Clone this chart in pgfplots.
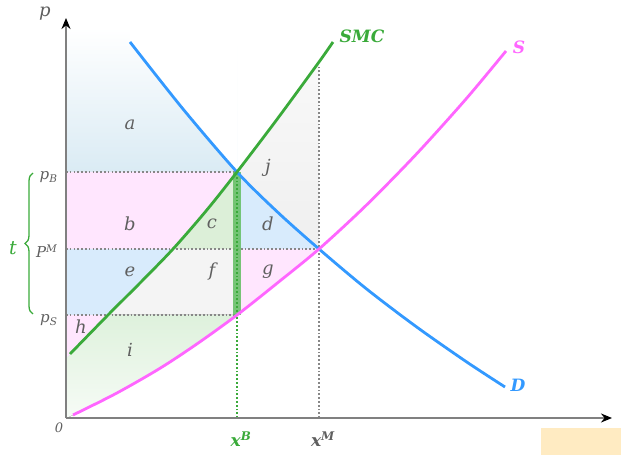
\documentclass[border=0pt]{standalone}
\usepackage{fontspec}
\setmainfont{DejaVu Serif}
\usepackage{pgfplots}
\usepackage{pgfplotstable}
\pgfplotsset{compat=1.18}
\usepgfplotslibrary{fillbetween}
\usetikzlibrary{arrows.meta,decorations.pathreplacing}

\definecolor{Dblue}{RGB}{51,153,255}
\definecolor{Sgreen}{RGB}{58,170,58}
\definecolor{Spink}{RGB}{255,102,255}
\definecolor{aBlue}{RGB}{218,235,244}
\definecolor{pinkF}{RGB}{255,230,254}
\definecolor{blueF}{RGB}{216,235,252}
\definecolor{greenF}{RGB}{220,239,216}
\definecolor{greenI}{RGB}{222,241,220}
\definecolor{greyF}{RGB}{244,244,244}
\definecolor{greyJ}{RGB}{239,239,239}
\definecolor{txtgray}{RGB}{95,95,95}
\definecolor{dotgray}{RGB}{135,135,135}
\definecolor{barGreen}{RGB}{105,192,105}
\definecolor{orangeF}{RGB}{255,235,194}

% demand curve D
\pgfplotstableread{
x y
64 376
117 309
171 246
212 205.5
253 169
300 129.5
350 91.5
400 56.5
439 31
}\Dtab

% marginal social cost SMC (drawn) and its fill outline
\pgfplotstableread{
x y
4 64
42 103
75 136
107 169
140 207
171 246
212 300
253 356
267 376
}\SMCtab
\pgfplotstableread{
x y
0 60
4 64
42 103
75 136
107 169
140 207
171 246
212 300
253 356
267 376
}\SMCfill

% supply curve S (drawn) and its fill outline
\pgfplotstableread{
x y
7 3
50 24.5
94 49.7
132 74.8
171 103
212 135.5
253 169
300 212.5
350 263.5
400 319
440 367
}\Stab
\pgfplotstableread{
x y
0 0
7 3
50 24.5
94 49.7
132 74.8
171 103
212 135.5
253 169
300 212.5
350 263.5
400 319
440 367
}\Sfill

\begin{document}
\begin{tikzpicture}
\begin{axis}[
  at={(0,0)}, anchor=south west,
  scale only axis, width=546pt, height=400pt,
  xmin=0, xmax=546, ymin=0, ymax=400,
  axis lines=left, xtick=\empty, ytick=\empty,
  clip=false, axis on top,
  axis line style={draw=gray, line width=2pt, -{Stealth[length=11pt,width=9pt,color=black]}},
]
% invisible named paths
\addplot[draw=none, smooth, name path=D] table {\Dtab};
\addplot[draw=none, smooth, name path=SMC] table {\SMCfill};
\addplot[draw=none, smooth, name path=S] table {\Sfill};
\addplot[draw=none, name path=hB] coordinates {(0,246) (546,246)};
\addplot[draw=none, name path=hM] coordinates {(0,169) (546,169)};
\addplot[draw=none, name path=hS] coordinates {(0,103) (546,103)};
\addplot[draw=none, name path=Top] coordinates {(0,390) (546,390)};

% areas
\addplot[draw=none, top color=white, bottom color=aBlue] fill between[of=Top and hB, soft clip={domain=0:171}];
\addplot[draw=none, fill=white] fill between[of=Top and D, soft clip={domain=64:171}];
\addplot[draw=none, fill=pinkF] fill between[of=SMC and hB, soft clip={domain=0:171}];
\addplot[draw=none, fill=greyF] fill between[of=hS and hM, soft clip={domain=42:171}];
\addplot[draw=none, top color=greenI, bottom color=greenI!25!white] fill between[of=S and hS, soft clip={domain=0:171}];
\addplot[draw=none, fill=blueF] fill between[of=SMC and hM, soft clip={domain=0:107}];
\addplot[draw=none, fill=pinkF] fill between[of=SMC and hS, soft clip={domain=0:42}];
\addplot[draw=none, fill=greenF] fill between[of=SMC and hM, soft clip={domain=107:171}];
\addplot[draw=none, fill=blueF] fill between[of=D and hM, soft clip={domain=171:253}];
\addplot[draw=none, fill=pinkF] fill between[of=S and hM, soft clip={domain=171:253}];
\addplot[draw=none, top color=white!60!greyJ, bottom color=greyJ] fill between[of=SMC and D, soft clip={domain=171:253}];

% dotted guide lines
\addplot[dotgray, line width=1.6pt, dash pattern=on 1.7pt off 2.1pt] coordinates {(0,246) (171,246)};
\addplot[dotgray, line width=1.6pt, dash pattern=on 1.7pt off 2.1pt] coordinates {(0,169) (253,169)};
\addplot[dotgray, line width=1.6pt, dash pattern=on 1.7pt off 2.1pt] coordinates {(0,103) (171,103)};
\addplot[dotgray, line width=1.6pt, dash pattern=on 1.7pt off 2.1pt] coordinates {(253,0) (253,351)};
\addplot[barGreen, line width=7.5pt, opacity=0.9] coordinates {(171,103) (171,246)};
\addplot[Sgreen, line width=1.6pt, dash pattern=on 1.7pt off 2.1pt] coordinates {(171,0) (171,246)};

% curves
\addplot[Dblue, line width=2.8pt, smooth] table {\Dtab};
\addplot[Spink, line width=2.8pt, smooth] table {\Stab};
\addplot[Sgreen, line width=2.8pt, smooth] table {\SMCtab};

% area letters
\begin{scope}[every node/.style={text=txtgray, font=\fontsize{18}{18}\selectfont\itshape}]
\node at (axis cs:64,293) {a};
\node at (axis cs:64,194) {b};
\node at (axis cs:146,194) {c};
\node at (axis cs:202,194) {d};
\node at (axis cs:64,146) {e};
\node at (axis cs:146,146) {f};
\node at (axis cs:202,146) {g};
\node at (axis cs:15,91) {h};
\node at (axis cs:64,68) {i};
\node at (axis cs:202,250) {j};
\end{scope}

% curve labels
\node[text=Sgreen, font=\fontsize{17}{17}\selectfont\bfseries\itshape] at (axis cs:296,382) {SMC};
\node[text=Spink, font=\fontsize{17}{17}\selectfont\bfseries\itshape] at (axis cs:453,371) {S};
\node[text=Dblue, font=\fontsize{17}{17}\selectfont\bfseries\itshape] at (axis cs:452,33) {D};

% axis labels
\node[text=txtgray, font=\fontsize{18}{18}\selectfont\itshape] at (axis cs:-21,404) {p};
\node[text=txtgray, font=\fontsize{13}{13}\selectfont\itshape] at (axis cs:-7,-10) {0};
\node[text=txtgray, font=\fontsize{15}{15}\selectfont\itshape, anchor=east] at (axis cs:-5,241) {p\textsubscript{B}};
\node[text=txtgray, font=\fontsize{15}{15}\selectfont\itshape, anchor=east] at (axis cs:-5,167) {P\textsuperscript{M}};
\node[text=txtgray, font=\fontsize{15}{15}\selectfont\itshape, anchor=east] at (axis cs:-5,98) {p\textsubscript{S}};
\node[text=Sgreen, font=\fontsize{17}{17}\selectfont\bfseries\itshape] at (axis cs:175,-21) {x\textsuperscript{B}};
\node[text=txtgray, font=\fontsize{17}{17}\selectfont\bfseries\itshape] at (axis cs:257,-21) {x\textsuperscript{M}};

% tax brace
\draw[Sgreen, line width=1.3pt, decorate, decoration={brace, amplitude=8pt}] (axis cs:-33,104) -- (axis cs:-33,245);
\node[text=Sgreen, font=\fontsize{19}{19}\selectfont\itshape] at (axis cs:-53,170) {t};
\end{axis}
\fill[orangeF] (475pt,-10pt) rectangle (555pt,-37pt);
\pgfresetboundingbox
\path[use as bounding box] (-66pt,-37pt) rectangle (555pt,418pt);
\end{tikzpicture}
\end{document}
